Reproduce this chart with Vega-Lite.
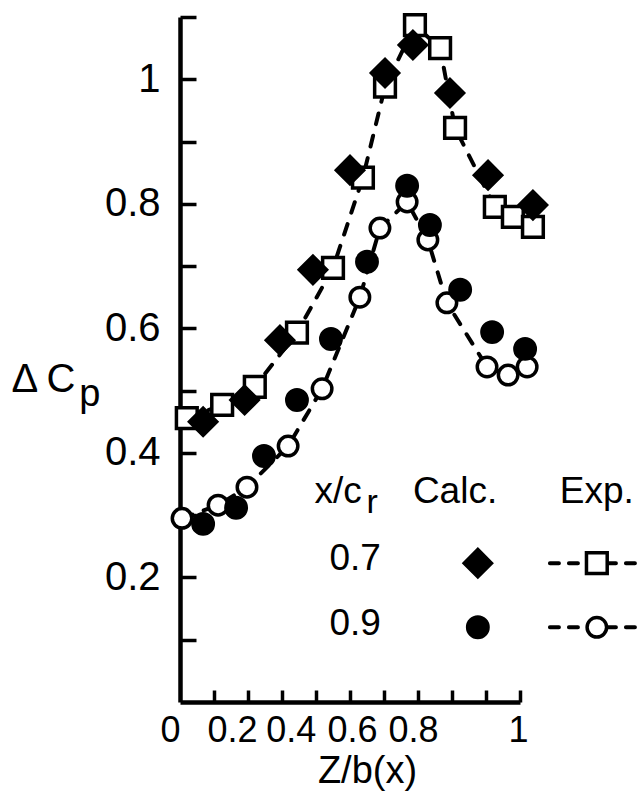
{
  "$schema": "https://vega.github.io/schema/vega-lite/v6.json",
  "width": 340,
  "height": 685,
  "autosize": {"type": "none"},
  "padding": {"left": 180, "top": 17, "right": 124, "bottom": 91},
  "background": "white",
  "config": {
    "view": {"stroke": null},
    "font": "Liberation Sans",
    "axis": {"grid": false, "domainColor": "black", "tickColor": "black", "labelColor": "black", "titleColor": "black", "labelFont": "Liberation Sans", "titleFont": "Liberation Sans"}
  },
  "datasets": {
    "points": [
      {"xcr": 0.7, "kind": "Exp.", "z": 0.02, "dcp": 0.456},
      {"xcr": 0.7, "kind": "Exp.", "z": 0.124, "dcp": 0.477},
      {"xcr": 0.7, "kind": "Exp.", "z": 0.22, "dcp": 0.506},
      {"xcr": 0.7, "kind": "Exp.", "z": 0.344, "dcp": 0.593},
      {"xcr": 0.7, "kind": "Exp.", "z": 0.45, "dcp": 0.697},
      {"xcr": 0.7, "kind": "Exp.", "z": 0.538, "dcp": 0.842},
      {"xcr": 0.7, "kind": "Exp.", "z": 0.603, "dcp": 0.988},
      {"xcr": 0.7, "kind": "Exp.", "z": 0.691, "dcp": 1.087},
      {"xcr": 0.7, "kind": "Exp.", "z": 0.765, "dcp": 1.05},
      {"xcr": 0.7, "kind": "Exp.", "z": 0.809, "dcp": 0.922},
      {"xcr": 0.7, "kind": "Exp.", "z": 0.926, "dcp": 0.795},
      {"xcr": 0.7, "kind": "Exp.", "z": 0.979, "dcp": 0.779},
      {"xcr": 0.7, "kind": "Exp.", "z": 1.038, "dcp": 0.763},
      {"xcr": 0.7, "kind": "Calc.", "z": 0.068, "dcp": 0.45},
      {"xcr": 0.7, "kind": "Calc.", "z": 0.19, "dcp": 0.485},
      {"xcr": 0.7, "kind": "Calc.", "z": 0.294, "dcp": 0.581},
      {"xcr": 0.7, "kind": "Calc.", "z": 0.391, "dcp": 0.694},
      {"xcr": 0.7, "kind": "Calc.", "z": 0.5, "dcp": 0.854},
      {"xcr": 0.7, "kind": "Calc.", "z": 0.603, "dcp": 1.01},
      {"xcr": 0.7, "kind": "Calc.", "z": 0.685, "dcp": 1.055},
      {"xcr": 0.7, "kind": "Calc.", "z": 0.794, "dcp": 0.978},
      {"xcr": 0.7, "kind": "Calc.", "z": 0.906, "dcp": 0.846},
      {"xcr": 0.7, "kind": "Calc.", "z": 1.038, "dcp": 0.798},
      {"xcr": 0.9, "kind": "Calc.", "z": 0.068, "dcp": 0.286},
      {"xcr": 0.9, "kind": "Calc.", "z": 0.165, "dcp": 0.312},
      {"xcr": 0.9, "kind": "Calc.", "z": 0.247, "dcp": 0.395},
      {"xcr": 0.9, "kind": "Calc.", "z": 0.344, "dcp": 0.485},
      {"xcr": 0.9, "kind": "Calc.", "z": 0.444, "dcp": 0.583},
      {"xcr": 0.9, "kind": "Calc.", "z": 0.55, "dcp": 0.707},
      {"xcr": 0.9, "kind": "Calc.", "z": 0.668, "dcp": 0.829},
      {"xcr": 0.9, "kind": "Calc.", "z": 0.735, "dcp": 0.766},
      {"xcr": 0.9, "kind": "Calc.", "z": 0.824, "dcp": 0.662},
      {"xcr": 0.9, "kind": "Calc.", "z": 0.918, "dcp": 0.594},
      {"xcr": 0.9, "kind": "Calc.", "z": 1.015, "dcp": 0.567},
      {"xcr": 0.9, "kind": "Exp.", "z": 0.006, "dcp": 0.295},
      {"xcr": 0.9, "kind": "Exp.", "z": 0.112, "dcp": 0.316},
      {"xcr": 0.9, "kind": "Exp.", "z": 0.197, "dcp": 0.345},
      {"xcr": 0.9, "kind": "Exp.", "z": 0.318, "dcp": 0.411},
      {"xcr": 0.9, "kind": "Exp.", "z": 0.418, "dcp": 0.503},
      {"xcr": 0.9, "kind": "Exp.", "z": 0.529, "dcp": 0.65},
      {"xcr": 0.9, "kind": "Exp.", "z": 0.588, "dcp": 0.761},
      {"xcr": 0.9, "kind": "Exp.", "z": 0.668, "dcp": 0.803},
      {"xcr": 0.9, "kind": "Exp.", "z": 0.729, "dcp": 0.742},
      {"xcr": 0.9, "kind": "Exp.", "z": 0.785, "dcp": 0.641},
      {"xcr": 0.9, "kind": "Exp.", "z": 0.903, "dcp": 0.538},
      {"xcr": 0.9, "kind": "Exp.", "z": 0.965, "dcp": 0.525},
      {"xcr": 0.9, "kind": "Exp.", "z": 1.021, "dcp": 0.538}
    ],
    "legendText": [
      {"t": "x/c", "x": 0.465, "y": 0.32},
      {"t": "Calc.", "x": 0.809, "y": 0.32},
      {"t": "Exp.", "x": 1.226, "y": 0.32},
      {"t": "0.7", "x": 0.515, "y": 0.212},
      {"t": "0.9", "x": 0.515, "y": 0.108}
    ],
    "subText": [
      {"t": "r", "x": 0.565, "y": 0.303}
    ],
    "yTitle": [
      {"t": "Δ", "x": -0.456, "y": 0.498},
      {"t": "C", "x": -0.35, "y": 0.498}
    ],
    "yTitleSub": [
      {"t": "p", "x": -0.265, "y": 0.476}
    ],
    "legendLine": [
      {"xcr": 0.7, "x": 1.088, "y": 0.223},
      {"xcr": 0.7, "x": 1.36, "y": 0.223},
      {"xcr": 0.9, "x": 1.088, "y": 0.12},
      {"xcr": 0.9, "x": 1.36, "y": 0.12}
    ],
    "legendSym": [
      {"xcr": 0.7, "kind": "Calc.", "x": 0.876, "y": 0.223},
      {"xcr": 0.9, "kind": "Calc.", "x": 0.876, "y": 0.12},
      {"xcr": 0.7, "kind": "Exp.", "x": 1.226, "y": 0.223},
      {"xcr": 0.9, "kind": "Exp.", "x": 1.226, "y": 0.12}
    ]
  },
  "resolve": {"axis": {"x": "independent"}},
  "layer": [
    {
      "data": {"name": "points"},
      "transform": [{"filter": "datum.kind == 'Exp.'"}],
      "mark": {"type": "line", "color": "black", "strokeWidth": 4, "strokeDash": [11, 12], "strokeCap": "round"},
      "encoding": {
        "x": {"field": "z", "type": "quantitative", "scale": {"domain": [0, 1], "nice": false, "zero": false},
          "axis": {"orient": "bottom", "values": [0.1, 0.2, 0.3, 0.4, 0.5, 0.6, 0.7, 0.8, 0.9, 1.0], "labels": false, "title": null, "domainWidth": 4.5, "tickWidth": 3.5, "tickSize": -12}},
        "y": {"field": "dcp", "type": "quantitative", "scale": {"domain": [0, 1.1], "nice": false, "zero": false},
          "axis": {"values": [0.1, 0.2, 0.3, 0.4, 0.5, 0.6, 0.7, 0.8, 0.9, 1.0, 1.1], "title": null, "domainWidth": 4.5, "tickWidth": 3.5, "tickSize": -16, "labelFontSize": 40, "labelPadding": 36, "labelOverlap": false,
            "labelExpr": "abs(datum.value-1) < 0.001 ? '1' : (abs(datum.value-0.2)<0.001 || abs(datum.value-0.4)<0.001 || abs(datum.value-0.6)<0.001 || abs(datum.value-0.8)<0.001) ? format(datum.value, '.1f') : ''"}},
        "detail": {"field": "xcr", "type": "nominal"},
        "order": {"field": "z", "type": "quantitative"}
      }
    },
    {
      "data": {"name": "points"},
      "transform": [{"filter": "datum.kind == 'Exp.' && datum.xcr == 0.7"}],
      "mark": {"type": "point", "shape": "square", "filled": true, "fill": "white", "stroke": "black", "strokeWidth": 3.5, "size": 430, "opacity": 1},
      "encoding": {
        "x": {"field": "z", "type": "quantitative",
          "axis": {"orient": "bottom", "values": [0, 0.153, 0.326, 0.506, 0.685, 0.994], "ticks": false, "domain": false, "labelFontSize": 36, "labelPadding": 11, "labelOverlap": false, "labelFlush": false,
            "labelAlign": {"condition": {"test": "datum.value < 0.05", "value": "right"}, "value": "center"},
            "labelExpr": "datum.value < 0.05 ? '0' : datum.value < 0.2 ? '0.2' : datum.value < 0.4 ? '0.4' : datum.value < 0.6 ? '0.6' : datum.value < 0.8 ? '0.8' : '1'",
            "title": "Z/b(x)", "titleFontSize": 38, "titleFontWeight": "normal", "titlePadding": 4, "titleX": 187}},
        "y": {"field": "dcp", "type": "quantitative"}
      }
    },
    {
      "data": {"name": "points"},
      "transform": [{"filter": "datum.kind == 'Exp.' && datum.xcr == 0.9"}],
      "mark": {"type": "point", "shape": "circle", "filled": true, "fill": "white", "stroke": "black", "strokeWidth": 3.5, "size": 380, "opacity": 1},
      "encoding": {
        "x": {"field": "z", "type": "quantitative", "axis": null},
        "y": {"field": "dcp", "type": "quantitative"}
      }
    },
    {
      "data": {"name": "points"},
      "transform": [{"filter": "datum.kind == 'Calc.' && datum.xcr == 0.7"}],
      "mark": {"type": "point", "shape": "diamond", "filled": true, "fill": "black", "stroke": "black", "strokeWidth": 2, "size": 860, "opacity": 1},
      "encoding": {
        "x": {"field": "z", "type": "quantitative", "axis": null},
        "y": {"field": "dcp", "type": "quantitative"}
      }
    },
    {
      "data": {"name": "points"},
      "transform": [{"filter": "datum.kind == 'Calc.' && datum.xcr == 0.9"}],
      "mark": {"type": "point", "shape": "circle", "filled": true, "fill": "black", "stroke": "black", "strokeWidth": 2, "size": 480, "opacity": 1},
      "encoding": {
        "x": {"field": "z", "type": "quantitative", "axis": null},
        "y": {"field": "dcp", "type": "quantitative"}
      }
    },
    {
      "data": {"name": "legendLine"},
      "mark": {"type": "line", "color": "black", "strokeWidth": 4, "strokeDash": [9, 10], "strokeCap": "round"},
      "encoding": {
        "x": {"field": "x", "type": "quantitative", "axis": null},
        "y": {"field": "y", "type": "quantitative"},
        "detail": {"field": "xcr", "type": "nominal"}
      }
    },
    {
      "data": {"name": "legendSym"},
      "transform": [{"filter": "datum.kind == 'Exp.' && datum.xcr == 0.7"}],
      "mark": {"type": "point", "shape": "square", "filled": true, "fill": "white", "stroke": "black", "strokeWidth": 3.5, "size": 430, "opacity": 1},
      "encoding": {"x": {"field": "x", "type": "quantitative", "axis": null}, "y": {"field": "y", "type": "quantitative"}}
    },
    {
      "data": {"name": "legendSym"},
      "transform": [{"filter": "datum.kind == 'Exp.' && datum.xcr == 0.9"}],
      "mark": {"type": "point", "shape": "circle", "filled": true, "fill": "white", "stroke": "black", "strokeWidth": 3.5, "size": 380, "opacity": 1},
      "encoding": {"x": {"field": "x", "type": "quantitative", "axis": null}, "y": {"field": "y", "type": "quantitative"}}
    },
    {
      "data": {"name": "legendSym"},
      "transform": [{"filter": "datum.kind == 'Calc.' && datum.xcr == 0.7"}],
      "mark": {"type": "point", "shape": "diamond", "filled": true, "fill": "black", "stroke": "black", "strokeWidth": 2, "size": 860, "opacity": 1},
      "encoding": {"x": {"field": "x", "type": "quantitative", "axis": null}, "y": {"field": "y", "type": "quantitative"}}
    },
    {
      "data": {"name": "legendSym"},
      "transform": [{"filter": "datum.kind == 'Calc.' && datum.xcr == 0.9"}],
      "mark": {"type": "point", "shape": "circle", "filled": true, "fill": "black", "stroke": "black", "strokeWidth": 2, "size": 480, "opacity": 1},
      "encoding": {"x": {"field": "x", "type": "quantitative", "axis": null}, "y": {"field": "y", "type": "quantitative"}}
    },
    {
      "data": {"name": "legendText"},
      "mark": {"type": "text", "fontSize": 37, "font": "Liberation Sans", "align": "center", "baseline": "alphabetic", "color": "black"},
      "encoding": {"x": {"field": "x", "type": "quantitative", "axis": null}, "y": {"field": "y", "type": "quantitative"}, "text": {"field": "t"}}
    },
    {
      "data": {"name": "subText"},
      "mark": {"type": "text", "fontSize": 34, "font": "Liberation Sans", "align": "center", "baseline": "alphabetic", "color": "black"},
      "encoding": {"x": {"field": "x", "type": "quantitative", "axis": null}, "y": {"field": "y", "type": "quantitative"}, "text": {"field": "t"}}
    },
    {
      "data": {"name": "yTitle"},
      "mark": {"type": "text", "fontSize": 40, "font": "Liberation Sans", "align": "center", "baseline": "alphabetic", "color": "black"},
      "encoding": {"x": {"field": "x", "type": "quantitative", "axis": null}, "y": {"field": "y", "type": "quantitative"}, "text": {"field": "t"}}
    },
    {
      "data": {"name": "yTitleSub"},
      "mark": {"type": "text", "fontSize": 38, "font": "Liberation Sans", "align": "center", "baseline": "alphabetic", "color": "black"},
      "encoding": {"x": {"field": "x", "type": "quantitative", "axis": null}, "y": {"field": "y", "type": "quantitative"}, "text": {"field": "t"}}
    }
  ]
}
